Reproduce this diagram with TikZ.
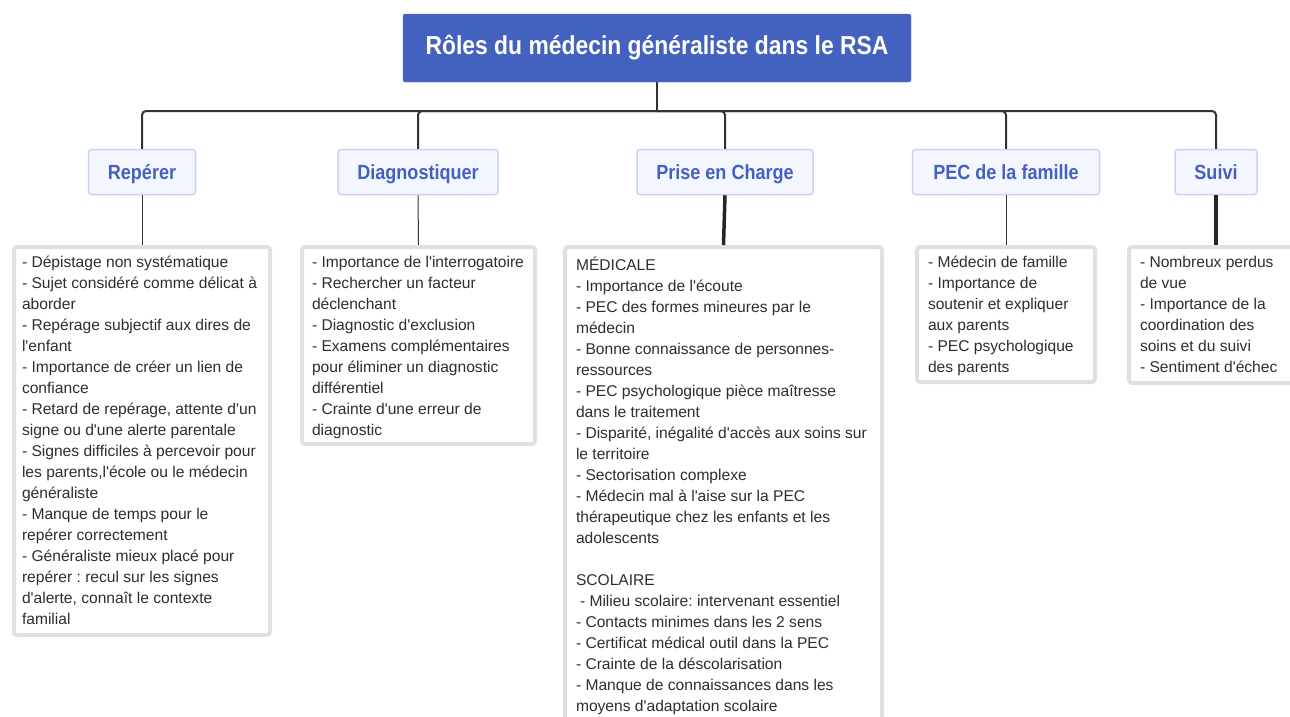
\documentclass[tikz,border=0pt]{standalone}
\usepackage{fontspec}
\setmainfont{Liberation Sans}[Ligatures=TeXOff]
\newfontfamily\headfont{Liberation Sans}[FakeStretch=0.88]
\usetikzlibrary{positioning}
\definecolor{titleblue}{HTML}{4361BE}
\definecolor{rolefill}{HTML}{F4F6FF}
\definecolor{roleline}{HTML}{C8D2F7}
\definecolor{roletext}{HTML}{4461BF}
\definecolor{boxline}{HTML}{E0E0E0}
\definecolor{bodytext}{HTML}{2E2E2E}
\definecolor{linkgray}{HTML}{333333}
\frenchspacing
\newcommand{\cadre}[3]{\parbox[t][#2][t]{#1}{\strut #3}}
\tikzset{
  titre/.style={fill=titleblue, draw=titleblue!85!white, rounded corners=2pt,
    minimum width=508pt, minimum height=68pt, text=white,
    font=\headfont\bfseries\fontsize{26}{30}\selectfont},
  role/.style={fill=rolefill, draw=roleline, line width=1.5pt, rounded corners=3pt,
    minimum height=45pt, text height=18pt, text depth=4pt, text=roletext,
    font=\headfont\bfseries\fontsize{20.5}{24}\selectfont},
  liste/.style={anchor=north, fill=white, draw=boxline, line width=4pt,
    rounded corners=3pt, inner xsep=8pt, inner ysep=6pt, text=bodytext,
    font=\fontsize{15.6}{21}\selectfont},
  bus/.style={draw=linkgray, line width=2pt, rounded corners=4pt},
  fin/.style={draw=linkgray, line width=1pt},
  epais/.style={draw=black!85, line width=3.5pt},
}

\begin{document}
\begin{tikzpicture}[x=1pt, y=1pt]
  \useasboundingbox (0,0) rectangle (1290,-716);
  %%%%% START %%%%%
  \node[titre] (titre) at (657,-48) {Rôles du médecin généraliste dans le RSA};
  \coordinate (bus) at (657,-111);

  \node[role, minimum width=107pt] (reperer) at (142,-172) {Repérer};
  \node[role, minimum width=160pt] (diag) at (418,-172) {Diagnostiquer};
  \node[role, minimum width=176pt] (pec) at (725,-172) {Prise en Charge};
  \node[role, minimum width=187pt] (famille) at (1006,-172) {PEC de la famille};
  \node[role, minimum width=82pt] (suivi) at (1216,-172) {Suivi};

  \node[liste] (reperer-txt) at (142,-245) {\cadre{240pt}{376pt}{%
    - Dépistage non systématique\\
    - Sujet considéré comme délicat à\\
    aborder\\
    - Repérage subjectif aux dires de\\
    l'enfant\\
    - Importance de créer un lien de\\
    confiance\\
    - Retard de repérage, attente d'un\\
    signe ou d'une alerte parentale\\
    - Signes difficiles à percevoir pour\\
    les parents,l'école ou le médecin\\
    généraliste\\
    - Manque de temps pour le\\
    repérer correctement\\
    - Généraliste mieux placé pour\\
    repérer : recul sur les signes\\
    d'alerte, connaît le contexte\\
    familial}};

  \node[liste, inner xsep=10pt] (diag-txt) at (418.5,-245) {\cadre{213pt}{185pt}{%
    - Importance de l'interrogatoire\\
    - Rechercher un facteur\\
    déclenchant\\
    - Diagnostic d'exclusion\\
    - Examens complémentaires\\
    pour éliminer un diagnostic\\
    différentiel\\
    - Crainte d'une erreur de\\
    diagnostic}};

  \node[liste, inner xsep=11pt] (pec-txt) at (723.5,-245) {\cadre{295pt}{478pt}{%
    \rule{0pt}{17pt}MÉDICALE\\
    - Importance de l'écoute\\
    - PEC des formes mineures par le\\
    médecin\\
    - Bonne connaissance de personnes-\\
    ressources\\
    - PEC psychologique pièce maîtresse\\
    dans le traitement\\
    - Disparité, inégalité d'accès aux soins sur\\
    le territoire\\
    - Sectorisation complexe\\
    - Médecin mal à l'aise sur la PEC\\
    thérapeutique chez les enfants et les\\
    adolescents\\
    \strut\\
    SCOLAIRE\\
    \hspace*{4pt}- Milieu scolaire: intervenant essentiel\\
    - Contacts minimes dans les 2 sens\\
    - Certificat médical outil dans la PEC\\
    - Crainte de la déscolarisation\\
    - Manque de connaissances dans les\\
    moyens d'adaptation scolaire}};

  \node[liste, inner xsep=11pt] (famille-txt) at (1006,-245) {\cadre{156pt}{123pt}{%
    - Médecin de famille\\
    - Importance de\\
    soutenir et expliquer\\
    aux parents\\
    - PEC psychologique\\
    des parents}};

  \node[liste, inner xsep=11pt] (suivi-txt) at (1216,-245) {\cadre{152pt}{124pt}{%
    - Nombreux perdus\\
    de vue\\
    - Importance de la\\
    coordination des\\
    soins et du suivi\\
    - Sentiment d'échec}};

  % liens
  \draw[bus] (titre.south) -- (bus);
  \foreach \r in {reperer, diag, pec, famille, suivi}
    \draw[bus] (bus) -| (\r.north);
  \draw[fin] (reperer.south) -- (reperer-txt.north);
  \draw[fin] (diag.south) -- (diag-txt.north);
  \draw[epais] (pec.south) -- (pec-txt.north);
  \draw[fin] (famille.south) -- (famille-txt.north);
  \draw[epais] (suivi.south) -- (suivi-txt.north);
  %%%%% END %%%%%
\end{tikzpicture}
\end{document}
